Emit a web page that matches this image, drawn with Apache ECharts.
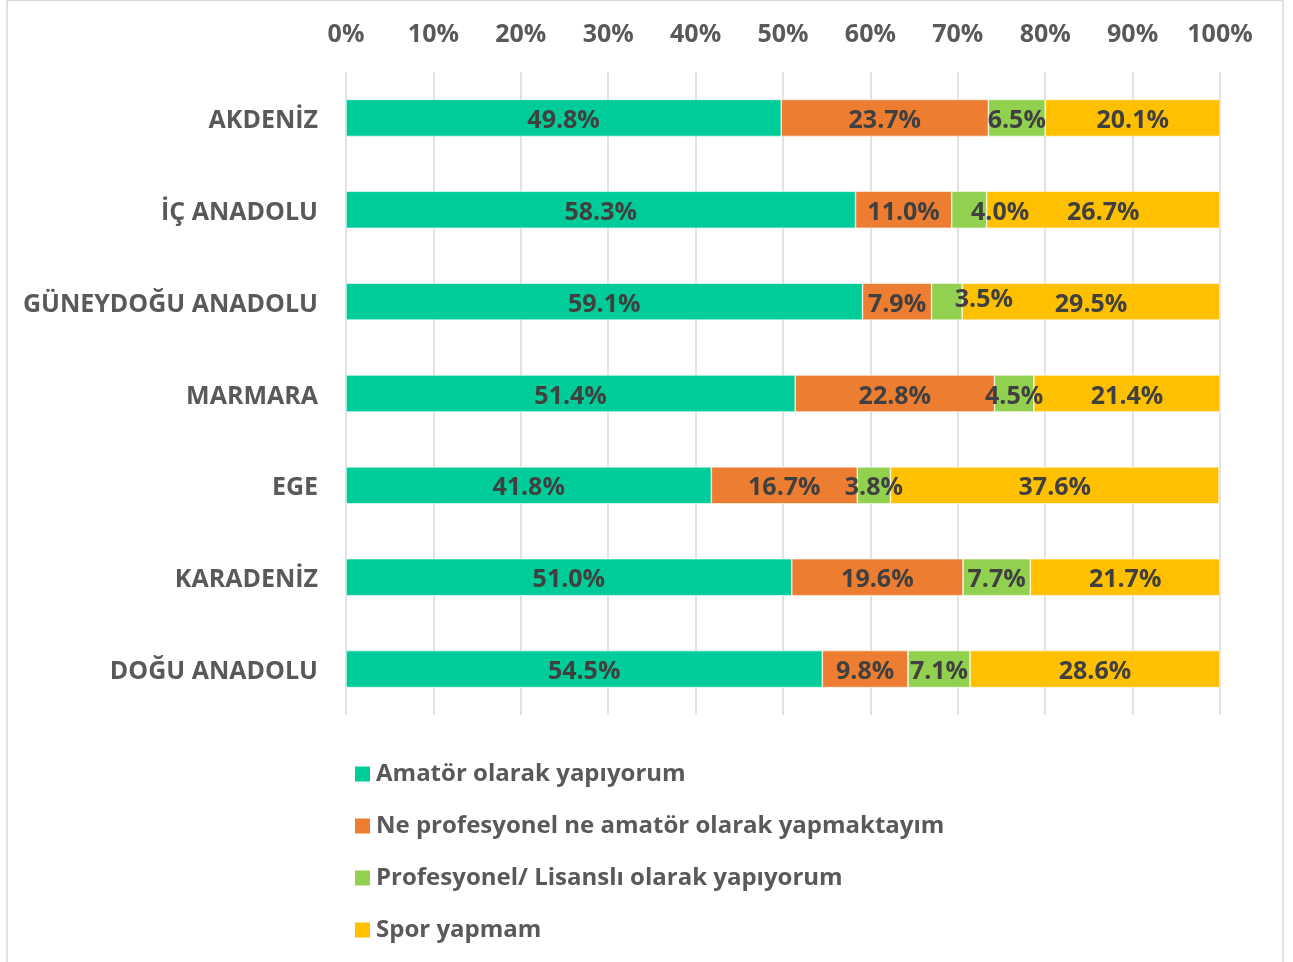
<!DOCTYPE html>
<html>
<head>
<meta charset="utf-8">
<script src="https://cdn.jsdelivr.net/npm/echarts@6/dist/echarts.min.js"></script>
<style>
html, body { margin: 0; padding: 0; background: #fff; }
#Main { width: 1293px; height: 962px; }
</style>
</head>
<body>
<div id="Main"></div>
<script>
// bölgeler (yukarıdan aşağıya)
var regions = ['AKDENİZ', 'İÇ ANADOLU', 'GÜNEYDOĞU ANADOLU', 'MARMARA', 'EGE', 'KARADENİZ', 'DOĞU ANADOLU'];
var seriesNames = ['Amatör olarak yapıyorum', 'Ne profesyonel ne amatör olarak yapmaktayım', 'Profesyonel/ Lisanslı olarak yapıyorum', 'Spor yapmam'];
var amator = [49.8, 58.3, 59.1, 51.4, 41.8, 51.0, 54.5];
var neNe = [23.7, 11.0, 7.9, 22.8, 16.7, 19.6, 9.8];
var profesyonel = [6.5, 4.0, 3.5, 4.5, 3.8, 7.7, 7.1];
var sporYapmam = [20.1, 26.7, 29.5, 21.4, 37.6, 21.7, 28.6];
var tickLabels = ['0%', '10%', '20%', '30%', '40%', '50%', '60%', '70%', '80%', '90%', '100%'];

var colors = ['#00CC99', '#ED7D31', '#92D050', '#FFC000'];
var font = 'Open Sans';
var fs = 25;

// etiketi elle kaydırılmış olanlar (seri_satır) -> [dx, dy]
var labelShift = { '2_1': [31, 3], '2_2': [37, -2] };

function makeSeries(idx, values) {
	return {
		name: seriesNames[idx],
		type: 'bar',
		stack: 'toplam',
		barWidth: 37,
		itemStyle: { color: colors[idx], borderColor: '#ffffff', borderWidth: 0.6 },
		label: {
			show: true,
			position: 'inside',
			offset: [0, 3],
			color: '#404040',
			fontFamily: font,
			fontWeight: 'bold',
			fontSize: fs,
			formatter: function (p) { return p.value.toFixed(1) + '%'; }
		},
		data: values.map(function (v, i) {
			var s = labelShift[idx + '_' + i];
			if (s) return { value: v, label: { offset: s } };
			return v;
		})
	};
}

var myChart = echarts.init(document.getElementById('Main'));
myChart.setOption({
	animation: false,
	textStyle: { fontFamily: font },
	graphic: [{
		type: 'rect',
		shape: { x: 7, y: 0.5, width: 1276, height: 980 },
		style: { fill: 'none', stroke: '#d9d9d9', lineWidth: 1.5 },
		silent: true
	}],
	grid: { left: 346, right: 73, top: 72, bottom: 247 },
	legend: {
		orient: 'vertical',
		left: 348,
		top: 755,
		itemWidth: 17,
		itemHeight: 17,
		itemGap: 24,
		icon: 'rect',
		textStyle: { color: '#595959', fontFamily: font, fontWeight: 'bold', fontSize: 24, lineHeight: 26, padding: [2, 0, 0, 0] },
		data: seriesNames
	},
	xAxis: {
		type: 'value',
		position: 'top',
		min: 0,
		max: 100,
		interval: 10,
		axisLine: { show: false },
		axisTick: { show: false },
		splitLine: { show: true, lineStyle: { color: '#d9d9d9', width: 1.5 } },
		axisLabel: {
			margin: 25,
			color: '#595959',
			fontFamily: font,
			fontWeight: 'bold',
			fontSize: fs,
			formatter: function (v) { return tickLabels[Math.round(v / 10)]; }
		}
	},
	yAxis: {
		type: 'category',
		inverse: true,
		data: regions,
		axisLine: { show: false },
		axisTick: { show: false },
		axisLabel: {
			margin: 28,
			formatter: function (v) { return '{a|' + v + '}'; },
			rich: {
				a: {
					color: '#595959',
					fontFamily: font,
					fontWeight: 'bold',
					fontSize: fs,
					padding: [6, 0, 0, 0]
				}
			}
		}
	},
	series: [
		makeSeries(0, amator),
		makeSeries(1, neNe),
		makeSeries(2, profesyonel),
		makeSeries(3, sporYapmam)
	]
});
</script>
</body>
</html>
